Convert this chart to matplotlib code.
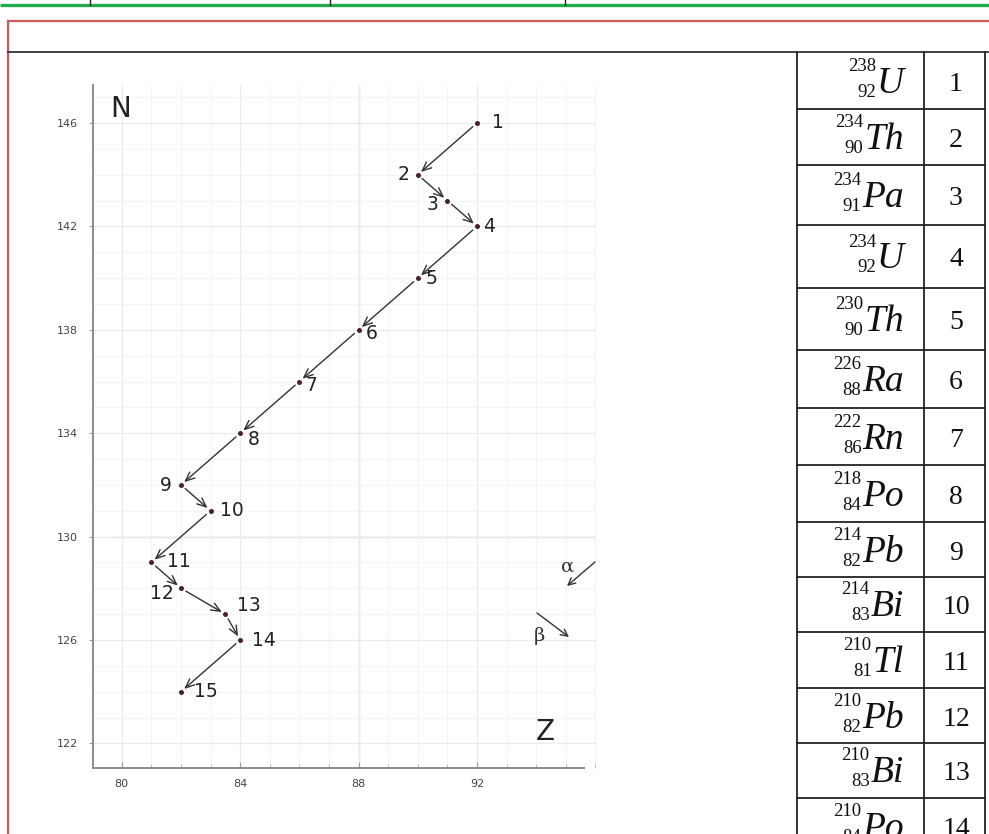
import matplotlib
matplotlib.use('Agg')
import matplotlib.pyplot as plt
from matplotlib.ticker import MultipleLocator

# ---------------- data ----------------
step_labels = [str(i) for i in range(1, 16)]
Z_values = [92, 90, 91, 92, 90, 88, 86, 84, 82, 83, 81, 82, 83.5, 84, 82]
N_values = [146, 144, 143, 142, 140, 138, 136, 134, 132, 131, 129, 128, 127, 126, 124]
x_ticks = [80, 84, 88, 92]
y_ticks = [122, 126, 130, 134, 138, 142, 146]

mass_numbers = [238, 234, 234, 234, 230, 226, 222, 218, 214, 214, 210, 210, 210, 210]
atomic_numbers = [92, 90, 91, 92, 90, 88, 86, 84, 82, 83, 81, 82, 83, 84]
symbols = ['U', 'Th', 'Pa', 'U', 'Th', 'Ra', 'Rn', 'Po', 'Pb', 'Bi', 'Tl', 'Pb', 'Bi', 'Po']
row_numbers = list(range(1, 15))

# ---------------- layout ----------------
W, H = 989, 834
fig = plt.figure(figsize=(W / 100, H / 100), dpi=100)
fig.patch.set_facecolor('white')

bg = fig.add_axes([0, 0, 1, 1])
bg.set_xlim(0, W)
bg.set_ylim(H, 0)
bg.axis('off')
bg.set_zorder(2)

# page decorations
bg.plot([0, W], [5, 5], color='#1fae4b', lw=2.4, solid_capstyle='butt')
for xx in [90, 330, 565]:
    bg.plot([xx, xx], [0, 5], color='#222222', lw=1.0)
bg.plot([8, W], [21, 21], color='#cf5a5a', lw=1.6)
bg.plot([8, 8], [21, H], color='#cf5a5a', lw=1.6)
bg.plot([8, W], [52, 52], color='#333333', lw=1.3)

# table
row_edges = [52, 109, 165, 225, 288, 350, 408, 465, 522, 577, 632, 688, 743, 798, 853]
col_x = [797, 924, 985]
for cx in col_x:
    bg.plot([cx, cx], [52, H], color='#222222', lw=1.3)
for ry in row_edges[1:]:
    bg.plot([col_x[0], col_x[-1]], [ry, ry], color='#222222', lw=1.3)

sym_texts = []
for i in range(len(symbols)):
    cy = (row_edges[i] + row_edges[i + 1]) / 2
    t = bg.text(904, cy + 12, symbols[i], ha='right', va='baseline', fontsize=27,
                family='Liberation Serif', style='italic', color='#111111')
    sym_texts.append((t, cy))
    bg.text(956, cy + 10, str(row_numbers[i]), ha='center', va='baseline', fontsize=20,
            family='Liberation Serif', color='#111111')

fig.canvas.draw()
renderer = fig.canvas.get_renderer()
for i, (t, cy) in enumerate(sym_texts):
    x0 = t.get_window_extent(renderer).x0
    bg.text(x0 - 1, cy - 10, str(mass_numbers[i]), ha='right', va='baseline', fontsize=13.5,
            family='Liberation Serif', color='#111111')
    bg.text(x0 - 1, cy + 16, str(atomic_numbers[i]), ha='right', va='baseline', fontsize=13.5,
            family='Liberation Serif', color='#111111')

# ---------------- chart ----------------
ax_l, ax_r, ax_t, ax_b = 93, 596, 85, 768
ax = fig.add_axes([ax_l / W, (H - ax_b) / H, (ax_r - ax_l) / W, (ax_b - ax_t) / H])
ax.set_zorder(1)
ax.set_facecolor('none')

px_per_x = 29.6
px_per_y = 25.85
ax.set_xlim(92 - (477 - ax_l) / px_per_x, 92 + (ax_r - 477) / px_per_x)
ax.set_ylim(146 - (ax_b - 123) / px_per_y, 146 + (123 - ax_t) / px_per_y)

for s in ['top', 'right']:
    ax.spines[s].set_visible(False)
for s in ['left', 'bottom']:
    ax.spines[s].set_color('#8c8c8c')
    ax.spines[s].set_linewidth(1.4)
ax.spines['bottom'].set_bounds(ax.get_xlim()[0], 95.6)

ax.set_xticks(x_ticks)
ax.set_yticks(y_ticks)
ax.xaxis.set_minor_locator(MultipleLocator(1))
ax.yaxis.set_minor_locator(MultipleLocator(1))
ax.tick_params(axis='x', which='major', direction='in', length=4, color='#9a9a9a',
               labelsize=8, labelcolor='#444444', pad=8)
ax.tick_params(axis='x', which='minor', direction='in', length=3, color='#b0b0b0')
ax.tick_params(axis='y', which='major', direction='out', length=3, color='#9a9a9a',
               labelsize=8, labelcolor='#444444', pad=8)
ax.tick_params(axis='y', which='minor', length=0)

ax.grid(which='minor', color='#f4f4f4', lw=0.8)
ax.grid(which='major', color='#ebebeb', lw=0.9)
ax.set_axisbelow(True)
ax.axhline(130, xmin=(112 - ax_l) / (ax_r - ax_l), color='#c0c0c0', lw=1.0, zorder=0.5)
ax.axvline(88, color='#dadada', lw=1.0, zorder=0.5)

# arrows between successive decay products
for i in range(len(Z_values) - 1):
    ax.annotate('', xy=(Z_values[i + 1], N_values[i + 1]), xytext=(Z_values[i], N_values[i]),
                arrowprops=dict(arrowstyle='->,head_length=0.65,head_width=0.28',
                                color='#333333', lw=1.0, shrinkA=4, shrinkB=3))

ax.scatter(Z_values, N_values, s=13, color='#4a1f3c', zorder=3, linewidths=0)

label_offsets = [(21, 0), (-14, 0), (-15, 4), (12, 0), (14, 0), (13, 4), (12, 4), (13, 6),
                 (-15, 1), (21, 0), (27, -1), (-19, 5), (23, -9), (24, 0), (25, 0)]
for lab, zx, ny, (dx, dy) in zip(step_labels, Z_values, N_values, label_offsets):
    ax.annotate(lab, xy=(zx, ny), xytext=(dx, -dy), textcoords='offset pixels',
                ha='center', va='center', fontsize=13.5, color='#222222')

# axis letters
bg.text(121, 109, 'N', ha='center', va='center', fontsize=20, color='#222222')
bg.text(545, 732, 'Z', ha='center', va='center', fontsize=20, color='#222222')

# alpha / beta legend
bg.text(568, 567, 'α', ha='center', va='center', fontsize=14, family='DejaVu Serif', color='#333333')
bg.annotate('', xy=(567, 586), xytext=(595, 562),
            arrowprops=dict(arrowstyle='->,head_length=0.5,head_width=0.25', color='#333333', lw=1.0,
                            shrinkA=0, shrinkB=0))
bg.text(539, 636, 'β', ha='center', va='center', fontsize=14, family='DejaVu Serif', color='#333333')
bg.annotate('', xy=(569, 637), xytext=(537, 613),
            arrowprops=dict(arrowstyle='->,head_length=0.5,head_width=0.25', color='#333333', lw=1.0,
                            shrinkA=0, shrinkB=0))

fig.savefig('out.png', dpi=100, facecolor='white')
